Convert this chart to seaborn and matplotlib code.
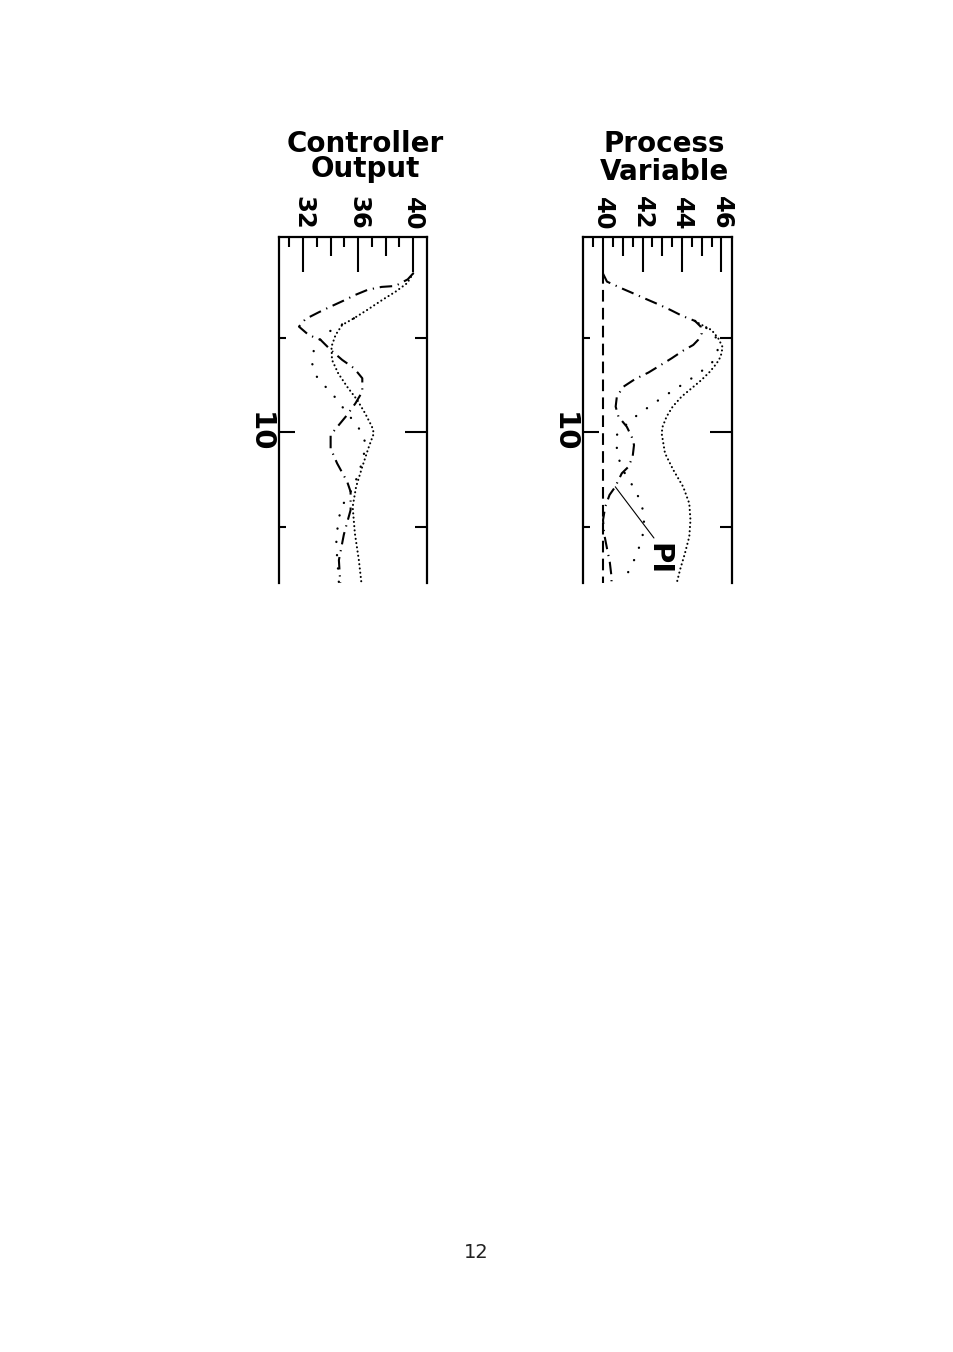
import matplotlib
matplotlib.use("Agg")
import matplotlib.pyplot as plt
import seaborn as sns

# --- data (time runs downward, values across) --- #
# Controller Output panel
co_dashdot_t = [1.58, 1.9, 2.25, 2.3, 2.45, 2.72, 3.02, 3.34, 3.64, 4.0, 4.4, 4.84, 5.1, 5.63,
                6.16, 6.6, 7.13, 7.84, 8.46, 9.07, 9.6, 10.13, 10.84, 11.63, 12.6, 13.13, 14.1,
                15.4, 16.75, 17.96]
co_dashdot_v = [40.0, 39.6, 38.7, 37.7, 36.7, 35.8, 34.96, 34.0, 33.14, 32.17, 31.7, 32.4, 33.27,
                34.0, 34.84, 35.7, 36.3, 36.3, 35.8, 35.2, 34.6, 34.0, 34.0, 34.47, 35.2, 35.45,
                35.45, 34.96, 34.6, 34.7]

co_dense_t = [1.58, 2.1, 2.55, 2.99, 3.52, 3.96, 4.31, 4.84, 5.46, 6.16, 6.87, 7.58, 8.28, 8.98,
              9.69, 10.04, 10.75, 11.81, 12.87, 13.93, 15.33, 16.75, 17.98]
co_dense_v = [40.0, 39.56, 38.72, 37.75, 36.65, 35.69, 34.84, 34.36, 34.06, 34.1, 34.55, 35.2,
              35.93, 36.5, 37.0, 37.14, 36.78, 36.3, 35.85, 35.6, 35.76, 36.05, 36.24]

co_sparse_t = [3.96, 4.58, 5.07, 5.63, 6.34, 7.05, 7.58, 8.1, 8.69, 9.25, 9.83, 10.49, 11.3,
               12.0, 12.6, 13.2, 13.8, 14.5, 15.25, 15.95, 16.8, 17.96]
co_sparse_v = [35.69, 34.06, 33.26, 32.78, 32.65, 33.0, 33.63, 34.28, 34.9, 35.5, 36.1, 36.5,
               36.4, 36.1, 35.8, 35.4, 34.9, 34.6, 34.47, 34.4, 34.5, 34.6]

# Process Variable panel
pv_setpoint_t = [1.5, 17.96]
pv_setpoint_v = [40.0, 40.0]

pv_dashdot_t = [1.6, 2.02, 2.37, 2.64, 2.94, 3.22, 3.52, 3.84, 4.1, 4.4, 4.75, 5.1, 5.37, 5.67,
                6.08, 6.48, 6.83, 7.17, 7.58, 8.1, 8.63, 9.16, 9.69, 10.22, 10.66, 11.28, 11.81,
                12.16, 12.87, 13.3, 13.93, 14.63, 15.33, 16.13, 16.84, 17.63, 17.98]
pv_dashdot_v = [40.0, 40.2, 40.93, 41.53, 42.18, 42.8, 43.42, 44.03, 44.66, 44.95, 45.0, 44.82,
                44.57, 44.06, 43.47, 42.85, 42.3, 41.63, 41.03, 40.7, 40.64, 40.78, 41.2, 41.45,
                41.57, 41.5, 41.29, 40.95, 40.62, 40.33, 40.11, 40.0, 40.05, 40.2, 40.34, 40.43,
                40.43]

pv_sparse_t = [4.1, 4.58, 5.02, 5.49, 5.99, 6.34, 6.96, 7.49, 8.02, 8.54, 9.11, 9.69, 10.13,
               11.1, 11.98, 12.87, 13.75, 14.63, 15.51, 16.48, 17.37, 17.98]
pv_sparse_v = [44.66, 45.4, 45.75, 45.85, 45.7, 45.5, 44.74, 43.98, 43.19, 42.46, 41.7, 41.06,
               40.7, 40.7, 41.0, 41.53, 41.96, 42.08, 42.0, 41.7, 41.28, 41.05]

pv_dense_t = [4.1, 4.26, 4.58, 5.02, 5.49, 5.99, 6.34, 6.78, 7.22, 7.66, 8.1, 8.63, 9.16, 9.69,
              10.04, 11.1, 11.98, 12.87, 13.75, 14.63, 15.51, 16.39, 17.27, 17.98]
pv_dense_v = [44.66, 44.91, 45.5, 45.84, 46.06, 45.96, 45.76, 45.42, 44.99, 44.49, 43.98, 43.53,
              43.22, 43.02, 42.97, 43.14, 43.56, 44.06, 44.37, 44.43, 44.37, 44.15, 43.9, 43.73]

time_major = [10]
time_minor = [5, 15]

co_major = [32, 36, 40]
co_medium = [34, 38]
co_minor = [31, 33, 35, 37, 39]

pv_major = [40, 42, 44, 46]
pv_medium = [41, 43, 45]
pv_minor = [39.5, 40.5, 41.5, 42.5, 43.5, 44.5, 45.5]

# --- styles --- #
DASHDOT = (0, (6, 2.8, 0.6, 2.8))
DENSE = (0, (0.05, 2.0))
SPARSE = (0, (0.05, 5.6))
DASHED = (0, (5.6, 3.0))

sns.set_theme(style="white")
plt.rcParams["font.family"] = ["DejaVu Sans"]
plt.rcParams.update({"axes.edgecolor": "black", "xtick.color": "black",
                     "ytick.color": "black", "text.color": "black"})

W, H = 954, 1352
T_TOP, T_BOTTOM = -0.34, 17.96


def draw(ax, t, v, ls, lw=1.5, cap="butt"):
    sns.lineplot(x=v, y=t, orient="y", sort=False, estimator=None, ax=ax, color="black",
                 linestyle=ls, linewidth=lw, dash_capstyle=cap)


def frame(ax, xlim, major, medium, minor):
    ax.set_xlim(*xlim)
    ax.set_ylim(T_BOTTOM, T_TOP)
    ax.set_xlabel("")
    ax.set_ylabel("")
    for s in ["top", "left", "right"]:
        ax.spines[s].set_linewidth(1.6)
        ax.spines[s].set_color("black")
    ax.spines["bottom"].set_visible(False)

    # value axis along the top
    ax.xaxis.tick_top()
    ax.set_xticks(major)
    ax.set_xticklabels([f"{m:g}" for m in major], rotation=-90, fontsize=17.5,
                       fontweight="bold")
    ax.set_xticks(minor, minor=True)
    ax.tick_params(axis="x", which="major", direction="in", length=25, width=1.5, pad=5,
                   top=True, bottom=False, labeltop=True, labelbottom=False)
    ax.tick_params(axis="x", which="minor", direction="in", length=7, width=1.5,
                   top=True, bottom=False)
    sec = ax.secondary_xaxis("top")
    sec.set_xticks(medium)
    sec.tick_params(direction="in", length=14, width=1.5, top=True, labeltop=False)
    for s in sec.spines.values():
        s.set_visible(False)

    # time axis down the sides
    ax.set_yticks(time_major)
    ax.set_yticklabels([str(m) for m in time_major], rotation=-90, fontsize=21,
                       fontweight="bold", va="center")
    ax.set_yticks(time_minor, minor=True)
    ax.tick_params(axis="y", which="major", direction="in", length=11.5, width=1.5, pad=4,
                   left=True, right=False)
    ax.tick_params(axis="y", which="minor", direction="in", length=5, width=1.5,
                   left=True, right=False)
    secy = ax.secondary_yaxis("right")
    secy.set_yticks(time_major)
    secy.set_yticks(time_minor, minor=True)
    secy.tick_params(which="major", direction="in", length=16, width=1.5, right=True,
                     labelright=False)
    secy.tick_params(which="minor", direction="in", length=8.6, width=1.5, right=True)
    for s in secy.spines.values():
        s.set_visible(False)


fig = plt.figure(figsize=(W / 100, H / 100), dpi=100)
fig.patch.set_facecolor("white")

ax_co = fig.add_axes([279 / W, 1 - 583 / H, 148 / W, 346 / H])
ax_pv = fig.add_axes([583.3 / W, 1 - 583 / H, 149 / W, 346 / H])

# Controller Output
draw(ax_co, co_dashdot_t, co_dashdot_v, DASHDOT, lw=1.5)
draw(ax_co, co_dense_t, co_dense_v, DENSE, lw=1.5, cap="round")
draw(ax_co, co_sparse_t, co_sparse_v, SPARSE, lw=1.7, cap="round")
frame(ax_co, (30.25, 41.0), co_major, co_medium, co_minor)

# Process Variable
draw(ax_pv, pv_setpoint_t, pv_setpoint_v, DASHED, lw=1.5)
draw(ax_pv, pv_dashdot_t, pv_dashdot_v, DASHDOT, lw=1.5)
draw(ax_pv, pv_dense_t, pv_dense_v, DENSE, lw=1.5, cap="round")
draw(ax_pv, pv_sparse_t, pv_sparse_v, SPARSE, lw=1.7, cap="round")
frame(ax_pv, (39.0, 46.55), pv_major, pv_medium, pv_minor)

# PI leader line and label
i_pi = pv_dashdot_t.index(12.87)
ax_pv.annotate("", xy=(pv_dashdot_v[i_pi], pv_dashdot_t[i_pi]), xytext=(42.58, 15.58),
               arrowprops=dict(arrowstyle="-", lw=0.8, color="black", shrinkA=0, shrinkB=0))
ax_pv.text(42.78, 16.7, "PI", rotation=-90, ha="center", va="center", fontsize=21,
           fontweight="bold")

# panel titles (two tight lines each; baseline = last line)
title_kw = dict(ha="center", va="baseline", multialignment="center", fontsize=20,
                fontweight="bold")
fig.text(365 / W, 1 - 177 / H, "Controller\nOutput", linespacing=0.875, **title_kw)
fig.text(664 / W, 1 - 179.5 / H, "Process\nVariable", linespacing=0.98, **title_kw)

# page number
fig.text(476 / W, 1 - 1258 / H, "12", ha="center", va="baseline", fontsize=14, color="#222222")

fig.savefig("out.png", dpi=100, facecolor="white")
